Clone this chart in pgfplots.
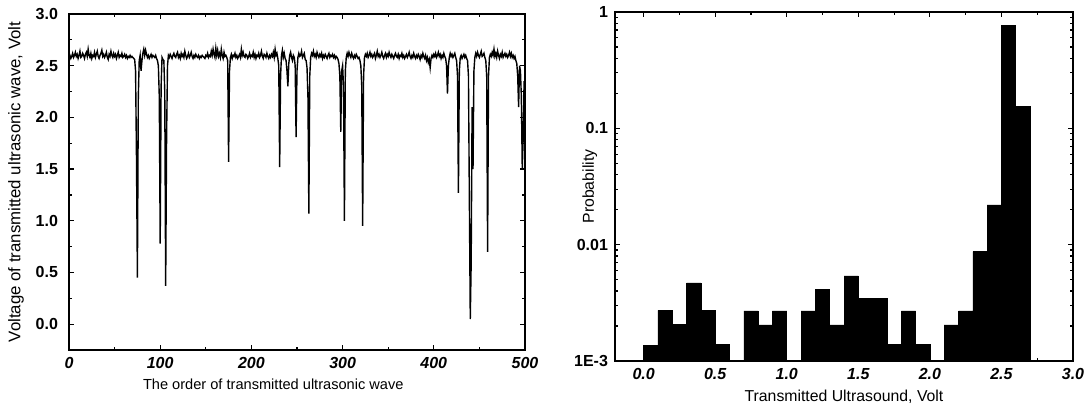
\documentclass[border=0pt]{standalone}
\usepackage{fontspec}
\setmainfont{Liberation Sans}
\usepackage{pgfplots}
\pgfplotsset{compat=1.18}

% one pixel of the reference = 0.5pt
\pgfplotsset{
  panel/.style={
    scale only axis, anchor=south west,
    tick align=inside,
    major tick length=2.6pt, minor tick length=1.5pt,
    axis line style={line width=0.7pt},
    every tick/.style={black, line width=0.6pt},
    /pgf/number format/assume math mode=true,
    tick label style={font=\fontsize{8}{9.6}\selectfont\bfseries},
    xticklabel style={font=\fontsize{8}{9.6}\selectfont\bfseries\itshape},
    label style={font=\fontsize{7.9}{9.5}\selectfont},
  }
}

\begin{document}
\begin{tikzpicture}
\useasboundingbox (0,0) rectangle (545.5pt,204.5pt);

\begin{axis}[panel, at={(34.5pt,29.5pt)}, width=228pt, height=168pt,
  xmin=0, xmax=500, ymin=-0.25, ymax=3.0,
  xtick={0,100,...,500}, minor x tick num=1,
  ytick={0,0.5,...,3}, minor y tick num=1,
  yticklabel style={xshift=-2pt, /pgf/number format/.cd, fixed, fixed zerofill, precision=1},
  xlabel={The order of transmitted ultrasonic wave},
  ylabel={Voltage of transmitted ultrasonic wave, Volt},
  xlabel style={at={(axis description cs:0.448,-0.101)}, anchor=center, font=\fontsize{7.3}{8.8}\selectfont},
  ylabel style={at={(axis description cs:-0.116,0.5)}, anchor=center, font=\fontsize{8.4}{10}\selectfont}]
\addplot[black, line width=0.7pt] table[header=false, row sep=\\, x expr=\coordindex, y index=0] {
2.58\\2.60\\2.57\\2.59\\2.62\\2.58\\2.60\\2.63\\2.59\\2.61\\2.57\\2.60\\2.64\\2.58\\2.59\\2.62\\2.60\\2.57\\2.61\\2.63\\
2.59\\2.66\\2.60\\2.58\\2.62\\2.57\\2.60\\2.59\\2.63\\2.58\\2.61\\2.64\\2.59\\2.57\\2.60\\2.62\\2.65\\2.59\\2.61\\2.58\\
2.60\\2.63\\2.58\\2.56\\2.61\\2.59\\2.64\\2.60\\2.58\\2.62\\2.59\\2.61\\2.57\\2.60\\2.63\\2.58\\2.60\\2.59\\2.62\\2.58\\
2.59\\2.61\\2.58\\2.60\\2.57\\2.59\\2.58\\2.60\\2.58\\2.59\\2.58\\2.57\\2.56\\2.45\\1.60\\0.45\\2.20\\2.55\\2.60\\2.45\\
2.55\\2.62\\2.66\\2.60\\2.65\\2.61\\2.58\\2.60\\2.57\\2.59\\2.61\\2.58\\2.60\\2.59\\2.58\\2.60\\2.57\\2.55\\2.50\\2.20\\
0.78\\2.30\\2.58\\2.56\\2.55\\2.25\\0.37\\1.80\\2.50\\2.60\\2.58\\2.61\\2.59\\2.57\\2.60\\2.62\\2.59\\2.58\\2.61\\2.63\\
2.58\\2.60\\2.57\\2.62\\2.59\\2.61\\2.58\\2.64\\2.60\\2.57\\2.59\\2.62\\2.58\\2.60\\2.63\\2.59\\2.57\\2.60\\2.58\\2.61\\
2.59\\2.58\\2.60\\2.57\\2.59\\2.58\\2.60\\2.59\\2.58\\2.57\\2.60\\2.59\\2.62\\2.58\\2.60\\2.59\\2.64\\2.60\\2.66\\2.61\\
2.58\\2.67\\2.60\\2.65\\2.59\\2.62\\2.58\\2.66\\2.60\\2.57\\2.63\\2.59\\2.60\\2.58\\2.55\\1.57\\2.45\\2.58\\2.61\\2.57\\
2.60\\2.59\\2.62\\2.58\\2.60\\2.57\\2.59\\2.61\\2.58\\2.66\\2.60\\2.63\\2.59\\2.58\\2.61\\2.60\\2.57\\2.59\\2.62\\2.58\\
2.60\\2.59\\2.63\\2.58\\2.61\\2.57\\2.60\\2.59\\2.62\\2.58\\2.60\\2.64\\2.59\\2.57\\2.61\\2.60\\2.58\\2.62\\2.59\\2.57\\
2.60\\2.58\\2.61\\2.59\\2.63\\2.58\\2.66\\2.60\\2.62\\2.57\\2.50\\1.52\\2.40\\2.60\\2.65\\2.58\\2.62\\2.57\\2.55\\2.45\\
2.30\\2.52\\2.60\\2.63\\2.58\\2.55\\2.60\\2.58\\2.50\\1.81\\2.45\\2.58\\2.62\\2.59\\2.60\\2.64\\2.58\\2.60\\2.62\\2.56\\
2.55\\2.48\\2.20\\1.07\\2.40\\2.58\\2.62\\2.60\\2.64\\2.59\\2.61\\2.58\\2.63\\2.60\\2.58\\2.61\\2.59\\2.62\\2.57\\2.60\\
2.58\\2.61\\2.59\\2.57\\2.60\\2.62\\2.58\\2.60\\2.59\\2.61\\2.58\\2.60\\2.57\\2.59\\2.58\\2.56\\2.52\\2.40\\1.86\\2.45\\
2.50\\2.30\\1.00\\2.45\\2.58\\2.62\\2.59\\2.63\\2.60\\2.58\\2.62\\2.59\\2.57\\2.60\\2.58\\2.61\\2.59\\2.57\\2.58\\2.55\\
2.50\\2.30\\0.95\\2.40\\2.58\\2.61\\2.59\\2.62\\2.58\\2.60\\2.63\\2.59\\2.61\\2.58\\2.60\\2.62\\2.57\\2.60\\2.64\\2.59\\
2.61\\2.58\\2.60\\2.63\\2.59\\2.57\\2.60\\2.62\\2.58\\2.61\\2.59\\2.63\\2.60\\2.58\\2.61\\2.59\\2.57\\2.60\\2.62\\2.59\\
2.58\\2.61\\2.57\\2.60\\2.59\\2.62\\2.58\\2.60\\2.57\\2.59\\2.61\\2.58\\2.60\\2.63\\2.59\\2.57\\2.60\\2.58\\2.62\\2.59\\
2.57\\2.60\\2.58\\2.61\\2.59\\2.56\\2.60\\2.58\\2.62\\2.59\\2.57\\2.60\\2.55\\2.58\\2.53\\2.56\\2.48\\2.57\\2.60\\2.58\\
2.61\\2.59\\2.62\\2.58\\2.60\\2.63\\2.59\\2.61\\2.57\\2.60\\2.58\\2.62\\2.59\\2.57\\2.50\\2.23\\2.50\\2.58\\2.62\\2.59\\
2.61\\2.58\\2.60\\2.62\\2.58\\2.55\\2.40\\1.27\\2.45\\2.58\\2.60\\2.57\\2.59\\2.61\\2.58\\2.60\\2.57\\2.55\\2.40\\1.20\\
0.05\\0.60\\2.10\\1.50\\2.45\\2.58\\2.62\\2.59\\2.63\\2.60\\2.58\\2.61\\2.64\\2.59\\2.60\\2.62\\2.58\\2.55\\2.40\\0.70\\
2.40\\2.58\\2.61\\2.59\\2.63\\2.60\\2.66\\2.59\\2.62\\2.58\\2.64\\2.60\\2.57\\2.61\\2.59\\2.63\\2.58\\2.60\\2.62\\2.59\\
2.61\\2.58\\2.60\\2.63\\2.59\\2.62\\2.58\\2.60\\2.57\\2.59\\2.55\\2.52\\2.40\\2.10\\2.50\\2.45\\2.20\\1.50\\1.80\\2.35\\
};
\end{axis}

\begin{axis}[panel, at={(307.5pt,24pt)}, width=229pt, height=174.5pt,
  ymode=log, log origin=infty,
  xmin=-0.2, xmax=3.0, ymin=1e-3, ymax=1,
  xtick={0,0.5,1,1.5,2,2.5,3}, minor x tick num=1,
  xticklabel style={/pgf/number format/.cd, fixed, fixed zerofill, precision=1},
  ytick={0.001,0.01,0.1,1}, yticklabels={1E-3,0.01,0.1,1},
  xlabel={Transmitted Ultrasound, Volt},
  ylabel={Probability},
  xlabel style={at={(axis description cs:0.5,-0.103)}, anchor=center},
  ylabel style={at={(axis description cs:-0.055,0.5)}, anchor=center}]
\addplot[ybar interval, fill=black, draw=black, line width=0.3pt] coordinates {
(0.0,1.37e-3) (0.1,2.72e-3) (0.2,2.05e-3) (0.3,4.7e-3) (0.4,2.72e-3)
(0.5,1.38e-3) (0.6,1e-3) (0.7,2.70e-3) (0.8,2.04e-3) (0.9,2.70e-3)
(1.0,1e-3) (1.1,2.70e-3) (1.2,4.1e-3) (1.3,2.04e-3) (1.4,5.4e-3)
(1.5,3.45e-3) (1.6,3.45e-3) (1.7,1.38e-3) (1.8,2.70e-3) (1.9,1.38e-3)
(2.0,1e-3) (2.1,2.04e-3) (2.2,2.70e-3) (2.3,8.7e-3) (2.4,0.022)
(2.5,0.77) (2.6,0.155) (2.7,0.155)
};
\end{axis}
\end{tikzpicture}
\end{document}
